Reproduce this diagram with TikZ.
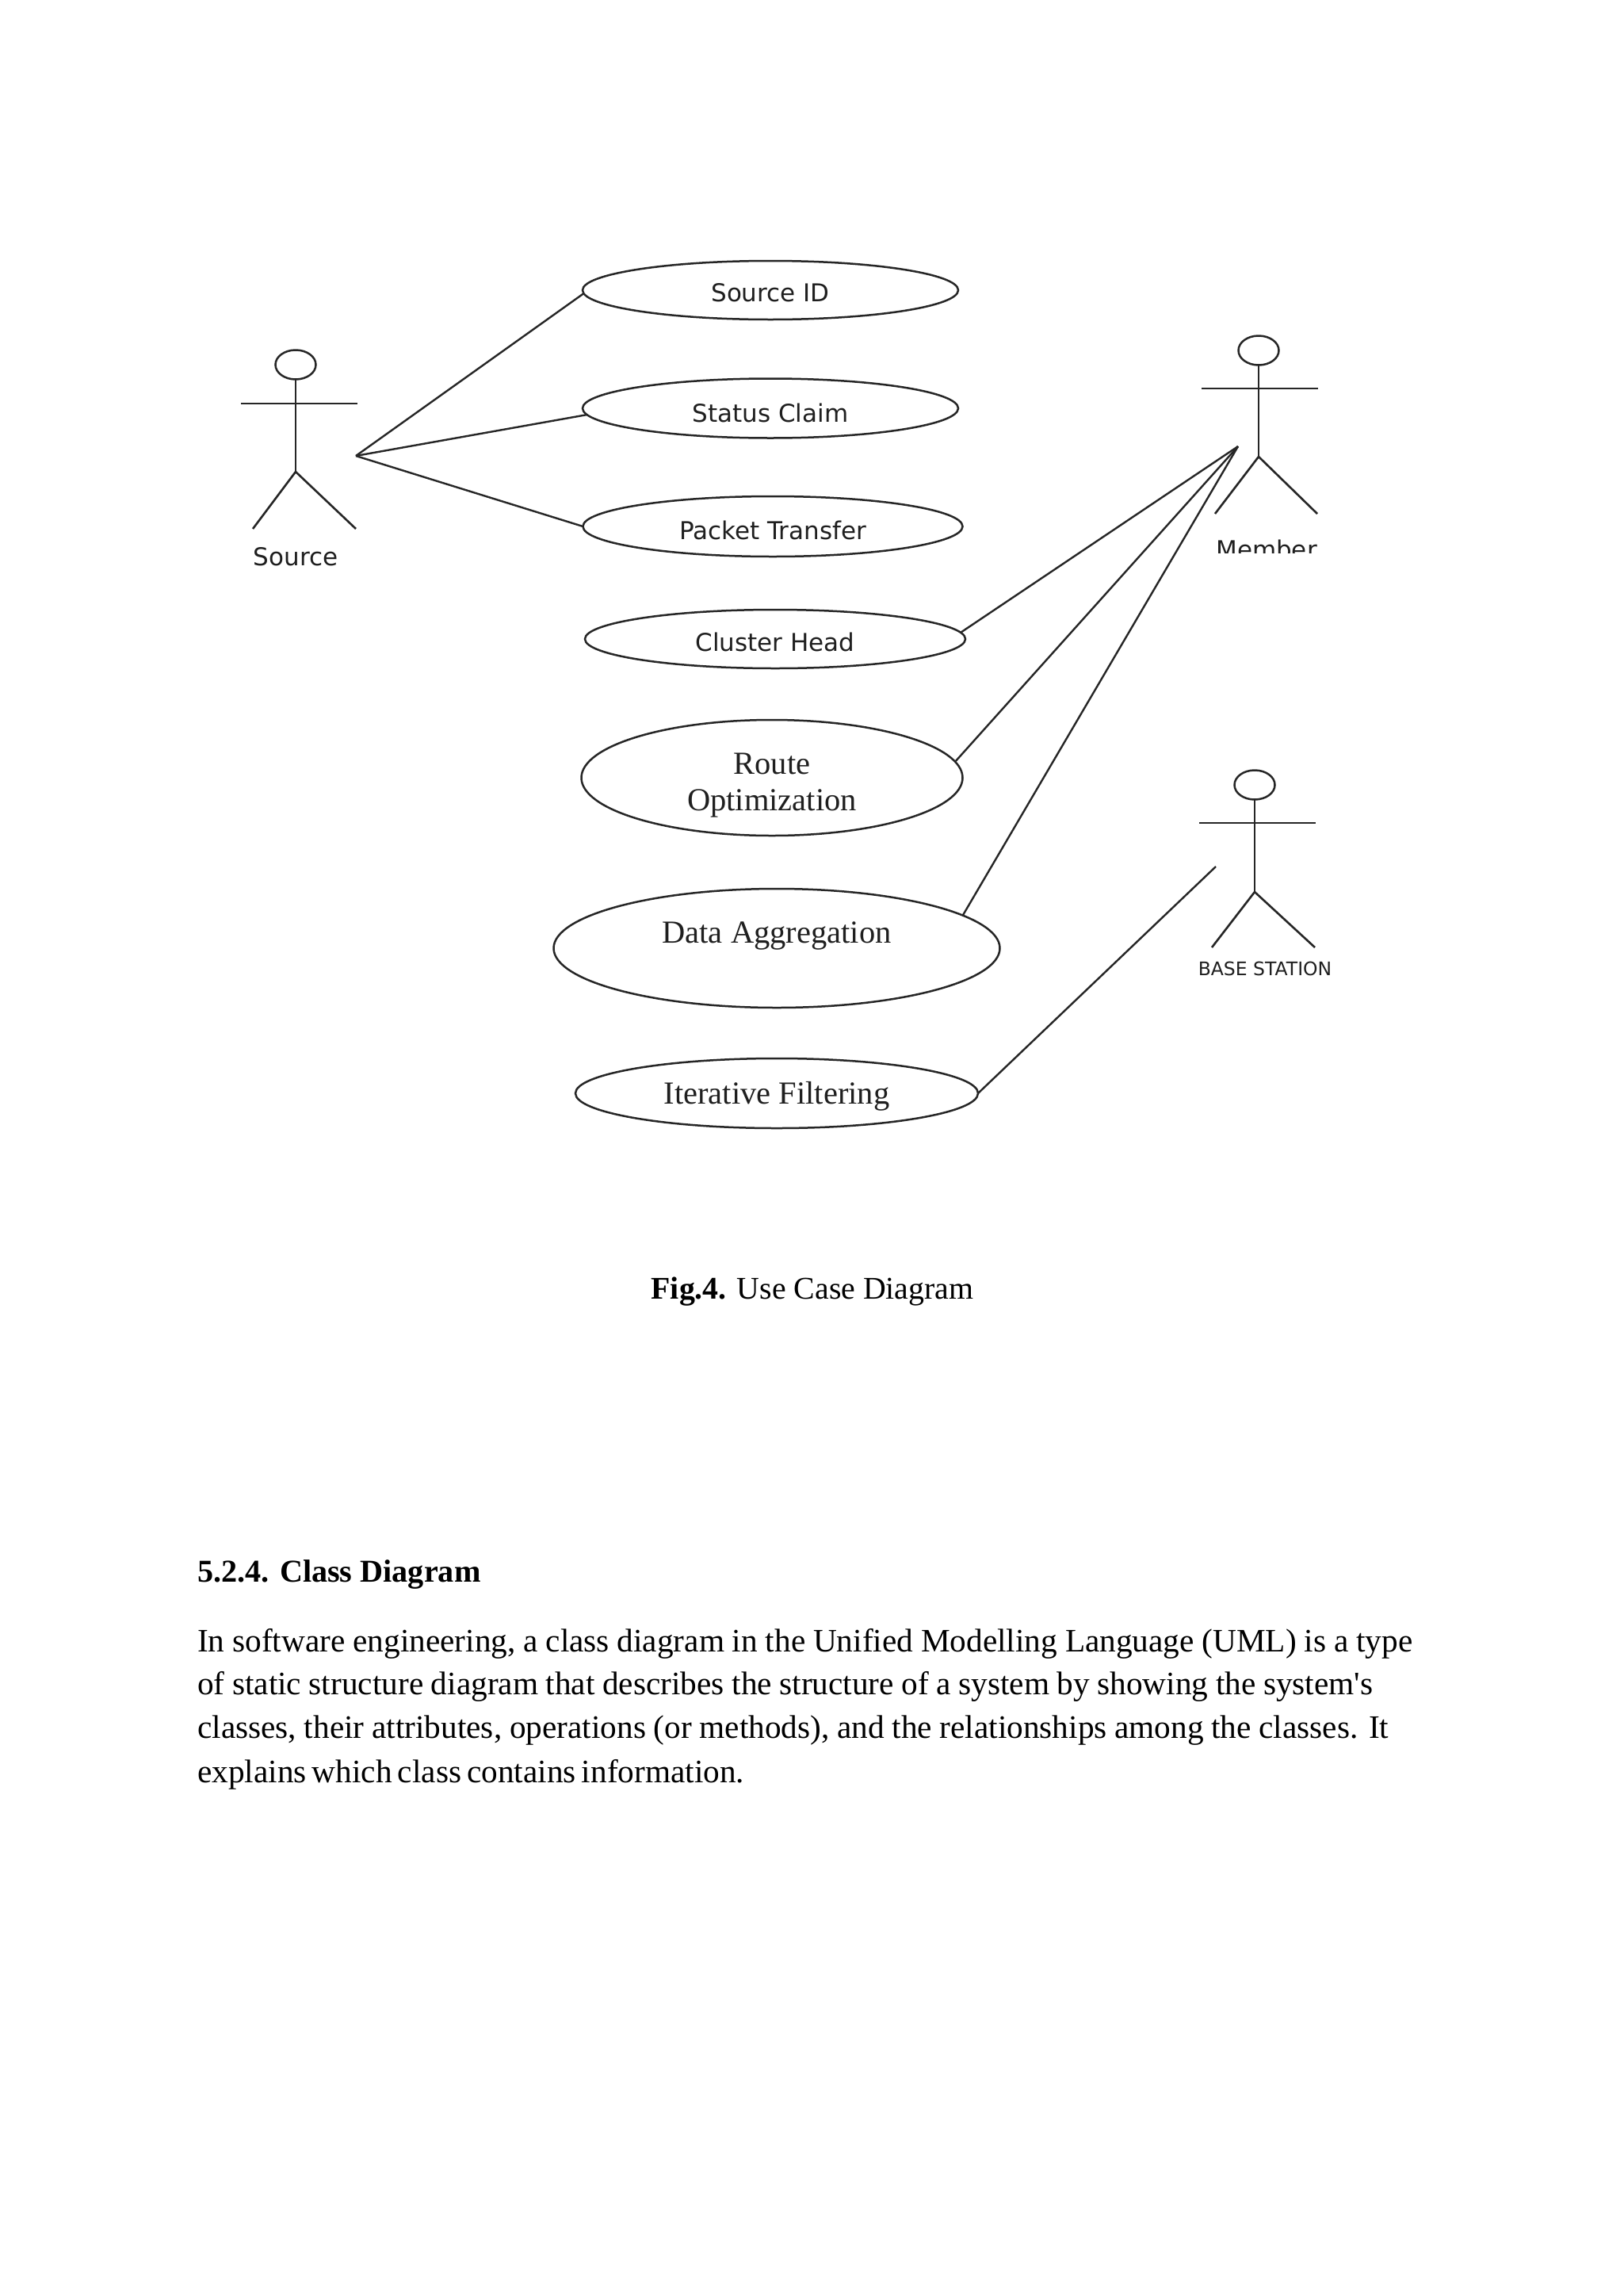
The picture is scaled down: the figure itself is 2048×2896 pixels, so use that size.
\documentclass[tikz,border=0pt]{standalone}
\usepackage{fontspec}
\setmainfont{Liberation Serif}
\newfontfamily\labelfont{DejaVu Sans}
\newfontfamily\plainserif{Liberation Serif}
\usetikzlibrary{shapes.geometric, positioning, calc}

\definecolor{inkline}{gray}{0.15}
\definecolor{inktext}{gray}{0.12}

\tikzset{
  usecase/.style={draw=inkline, ellipse, line width=2.5pt, inner sep=0pt, outer sep=0pt, text=inktext, align=center},
  sanscase/.style={usecase, font=\labelfont\fontsize{31}{37}\selectfont},
  serifcase/.style={usecase, font=\fontsize{40.5}{46}\selectfont},
  head/.style={draw=inkline, ellipse, line width=2.5pt, inner sep=0pt, outer sep=0pt, minimum width=51pt, minimum height=37pt},
  limb/.style={draw=inkline, line width=2.6pt},
  link/.style={draw=inkline, line width=2.4pt},
  actorname/.style={text=inktext, inner sep=0pt, anchor=base, font=\labelfont\fontsize{31}{36}\selectfont},
  bodytext/.style={inner sep=0pt, anchor=base west, font=\fontsize{41.3}{50}\selectfont}
}

\begin{document}
\begin{tikzpicture}[x=1pt, y=-1pt]
  \useasboundingbox (0,0) rectangle (2048,2896);
  \fill[white] (0,0) rectangle (2048,2896);

  % use cases
  \node[sanscase, minimum width=474pt, minimum height=74pt] (srcid) at (972,366) {\raisebox{-14pt}[0pt][0pt]{Source ID}};
  \node[sanscase, minimum width=474pt, minimum height=75pt] (status) at (972,515) {\raisebox{-17pt}[0pt][0pt]{Status Claim}};
  \node[sanscase, minimum width=479pt, minimum height=76pt] (packet) at (975,664) {\raisebox{-16pt}[0pt][0pt]{Packet Transfer}};
  \node[sanscase, minimum width=480pt, minimum height=74pt] (cluster) at (978,806) {\raisebox{-15pt}[0pt][0pt]{Cluster Head}};
  \node[serifcase, minimum width=481pt, minimum height=146pt] (route) at (974,981) {\raisebox{-41pt}[0pt][0pt]{\begin{tabular}[b]{@{}c@{}}Route\\Optimization\end{tabular}}};
  \node[serifcase, minimum width=563pt, minimum height=150pt] (data) at (980,1196) {\raisebox{7pt}[0pt][0pt]{Data Aggregation}};
  \node[serifcase, minimum width=508pt, minimum height=88pt] (filter) at (980,1379) {\raisebox{-13pt}[0pt][0pt]{Iterative Filtering}};

  % source actor
  \node[head] (srchead) at (373,460) {};
  \coordinate (srchip) at (373,595);
  \coordinate (srchand) at (449,575);
  \draw[limb] (srchead.south) -- (srchip);
  \draw[limb] (304,509) -- (451,509);
  \draw[limb] (319,667) -- (srchip) -- (449,667);
  \node[actorname] (srcname) at (373,713) {Source};

  % member actor
  \node[head] (memhead) at (1588,442) {};
  \coordinate (memhip) at (1588,576);
  \coordinate (memhand) at (1562,563);
  \draw[limb] (memhead.south) -- (memhip);
  \draw[limb] (1516,490) -- (1663,490);
  \draw[limb] (1533,648) -- (memhip) -- (1662,648);
  \begin{scope}
    \clip (1500,660) rectangle (1700,697);
    \node[actorname] (memname) at (1598,704) {Member};
  \end{scope}

  % base station actor
  \node[head] (basehead) at (1583,990) {};
  \coordinate (basehip) at (1583,1125);
  \coordinate (basehand) at (1534,1093);
  \draw[limb] (basehead.south) -- (basehip);
  \draw[limb] (1513,1038) -- (1660,1038);
  \draw[limb] (1529,1195) -- (basehip) -- (1659,1195);
  \node[actorname, font=\labelfont\fontsize{23.5}{28}\selectfont] (basename) at (1596,1230) {BASE STATION};

  % links
  \draw[link] (srchand) -- (srcid.181);
  \draw[link] (srchand) -- (status.182);
  \draw[link] (srchand) -- (packet.west);
  \draw[link] (memhand) -- (cluster.2);
  \draw[link] (memhand) -- (route.5);
  \draw[link] (memhand) -- (data.10);
  \draw[link] (basehand) -- (filter.east);

  % text below the figure
  \node[bodytext, anchor=base, font=\fontsize{39.8}{50}\selectfont] (caption) at (1025,1638) {\textbf{Fig.4.} Use Case Diagram};
  \node[bodytext, font=\fontsize{40.2}{50}\selectfont] (heading) at (249,1995) {\textbf{5.2.4. Class Diagram}};
  \node[bodytext] (line1) at (249,2083) {\makebox[1533pt][s]{In software engineering, a class diagram in the Unified Modelling Language (UML) is a type}};
  \node[bodytext] (line2) at (249,2137) {\makebox[1483pt][s]{of static structure diagram that describes the structure of a system by showing the system{\plainserif'}s}};
  \node[bodytext] (line3) at (249,2192) {\makebox[1503pt][s]{classes, their attributes, operations (or methods), and the relationships among the classes. It}};
  \node[bodytext] (line4) at (249,2248) {\makebox[690pt][s]{explains which class contains information.}};
\end{tikzpicture}
\end{document}
